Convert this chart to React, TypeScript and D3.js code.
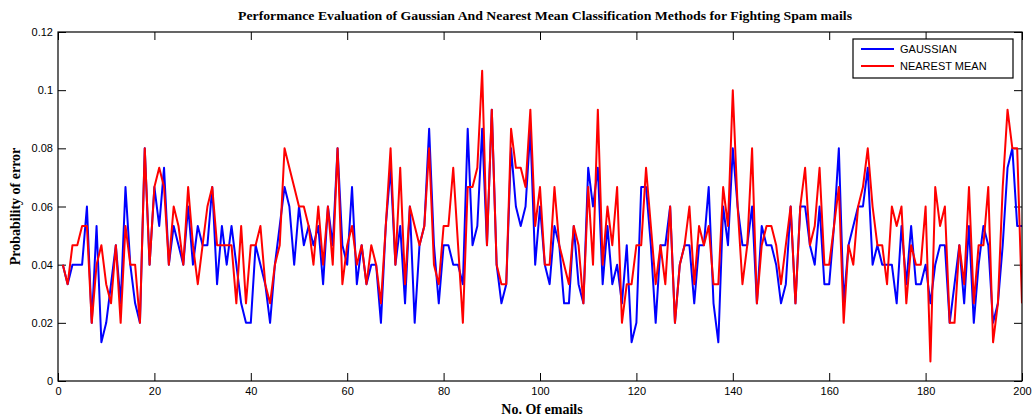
import React, { useRef, useEffect } from "react";
import { select, scaleLinear, line, axisBottom, axisLeft, axisTop, axisRight } from "d3";

// error probability per email (1..200)
const gaussian = [
  0.04, 0.0333, 0.04, 0.04, 0.04, 0.06, 0.02, 0.0533, 0.0133, 0.02, 0.0333, 0.0467, 0.0267, 0.0667, 0.04, 0.0267, 0.02, 0.08, 0.04, 0.0667,
  0.0533, 0.0733, 0.04, 0.0533, 0.0467, 0.04, 0.06, 0.04, 0.0533, 0.0467, 0.0467, 0.0667, 0.0333, 0.0533, 0.04, 0.0533, 0.04, 0.0267, 0.02, 0.02,
  0.0467, 0.04, 0.0333, 0.02, 0.04, 0.0533, 0.0667, 0.06, 0.04, 0.06, 0.0467, 0.0533, 0.0467, 0.0533, 0.0333, 0.06, 0.0467, 0.08, 0.0467, 0.04,
  0.0667, 0.0333, 0.0467, 0.0333, 0.04, 0.04, 0.02, 0.0533, 0.0733, 0.04, 0.0533, 0.0267, 0.06, 0.02, 0.0467, 0.0533, 0.0867, 0.0467, 0.0267, 0.0467,
  0.0467, 0.04, 0.04, 0.0333, 0.0867, 0.0467, 0.0533, 0.0867, 0.0467, 0.0933, 0.04, 0.0267, 0.0333, 0.08, 0.06, 0.0533, 0.06, 0.0867, 0.04, 0.06,
  0.04, 0.0333, 0.0533, 0.0467, 0.0267, 0.0267, 0.0533, 0.0333, 0.0267, 0.0733, 0.06, 0.0733, 0.0333, 0.0533, 0.0333, 0.04, 0.0267, 0.0467, 0.0133, 0.02,
  0.0667, 0.0667, 0.0467, 0.02, 0.0467, 0.0467, 0.06, 0.02, 0.04, 0.0467, 0.0467, 0.0267, 0.0467, 0.0467, 0.0667, 0.0267, 0.0133, 0.06, 0.0467, 0.08,
  0.06, 0.0467, 0.0467, 0.06, 0.0267, 0.0533, 0.0467, 0.0467, 0.04, 0.0267, 0.0333, 0.06, 0.0267, 0.06, 0.06, 0.0467, 0.04, 0.06, 0.0333, 0.0333,
  0.0533, 0.08, 0.0267, 0.0467, 0.0533, 0.06, 0.06, 0.0733, 0.04, 0.0467, 0.04, 0.04, 0.04, 0.0267, 0.0533, 0.0333, 0.0533, 0.0333, 0.0333, 0.04,
  0.0267, 0.04, 0.0467, 0.0467, 0.02, 0.0333, 0.0467, 0.0267, 0.0533, 0.02, 0.04, 0.0533, 0.0467, 0.02, 0.0267, 0.0467, 0.0733, 0.08, 0.0533, 0.0533,
];

const nearestMean = [
  0.04, 0.0333, 0.0467, 0.0467, 0.0533, 0.0533, 0.02, 0.04, 0.0467, 0.0333, 0.0267, 0.0467, 0.02, 0.0533, 0.04, 0.04, 0.02, 0.08, 0.04, 0.0667,
  0.0733, 0.0667, 0.04, 0.06, 0.0533, 0.04, 0.0667, 0.0467, 0.0333, 0.0467, 0.06, 0.0667, 0.0467, 0.0467, 0.0467, 0.0467, 0.0267, 0.0533, 0.0267, 0.0467,
  0.0467, 0.0533, 0.0333, 0.0267, 0.04, 0.0467, 0.08, 0.0733, 0.0667, 0.06, 0.06, 0.0533, 0.04, 0.06, 0.04, 0.06, 0.04, 0.08, 0.0333, 0.0467,
  0.0533, 0.04, 0.0467, 0.0333, 0.0467, 0.04, 0.0267, 0.0533, 0.08, 0.04, 0.0733, 0.0333, 0.06, 0.0533, 0.0467, 0.0533, 0.08, 0.04, 0.0333, 0.0533,
  0.0533, 0.0733, 0.0467, 0.02, 0.0667, 0.0667, 0.0733, 0.1067, 0.0467, 0.0933, 0.04, 0.0333, 0.0333, 0.0867, 0.0733, 0.0733, 0.0667, 0.0933, 0.0533, 0.0667,
  0.04, 0.04, 0.0667, 0.0467, 0.04, 0.0333, 0.0533, 0.0467, 0.0267, 0.0667, 0.04, 0.0933, 0.04, 0.06, 0.0467, 0.0667, 0.02, 0.0333, 0.0333, 0.0467,
  0.0467, 0.0733, 0.0533, 0.0333, 0.0467, 0.0333, 0.06, 0.02, 0.04, 0.0467, 0.06, 0.0333, 0.0533, 0.0467, 0.0533, 0.0333, 0.0333, 0.0667, 0.0533, 0.1,
  0.06, 0.0333, 0.0467, 0.08, 0.0267, 0.0467, 0.0533, 0.0533, 0.0467, 0.0333, 0.0467, 0.06, 0.0267, 0.06, 0.0733, 0.0467, 0.0533, 0.0733, 0.04, 0.04,
  0.0533, 0.0667, 0.02, 0.0467, 0.04, 0.06, 0.0667, 0.08, 0.06, 0.0467, 0.0467, 0.0333, 0.06, 0.0533, 0.06, 0.0267, 0.0467, 0.04, 0.04, 0.06,
  0.0067, 0.0667, 0.0533, 0.06, 0.02, 0.02, 0.0467, 0.0333, 0.0667, 0.0267, 0.0467, 0.0467, 0.0667, 0.0133, 0.0267, 0.0667, 0.0933, 0.08, 0.08, 0.0267,
];

const xTicks = [0, 20, 40, 60, 80, 100, 120, 140, 160, 180, 200];
const yTicks = [0, 0.02, 0.04, 0.06, 0.08, 0.1, 0.12];
const seriesNames = ["GAUSSIAN", "NEAREST MEAN"];
const seriesColors = ["#0000ff", "#ff0000"];

const W = 1034;
const H = 419;
const margin = { left: 58, right: 12, top: 32, bottom: 38 };

export default function App() {
  const svgRef = useRef(null);

  useEffect(() => {
    const svg = select(svgRef.current);
    svg.selectAll("*").remove();

    const x = scaleLinear().domain([0, 200]).range([margin.left, W - margin.right]);
    const y = scaleLinear().domain([0, 0.12]).range([H - margin.bottom, margin.top]);
    const tickFont = "'Liberation Sans', Arial, sans-serif";

    svg.append("rect").attr("width", W).attr("height", H).attr("fill", "#fff");

    const g = svg.append("g");

    const styleAxis = (sel) => {
      sel.select(".domain").remove();
      sel.selectAll(".tick line").attr("stroke", "#000");
      sel.selectAll(".tick text").attr("font-family", tickFont).attr("font-size", 11).attr("fill", "#000");
    };

    g.append("g")
      .attr("transform", `translate(0,${y(0)})`)
      .call(axisBottom(x).tickValues(xTicks).tickSize(-8).tickPadding(6))
      .call(styleAxis);
    g.append("g")
      .attr("transform", `translate(0,${y(0.12)})`)
      .call(axisTop(x).tickValues(xTicks).tickSize(-8).tickFormat(() => ""))
      .call(styleAxis);
    g.append("g")
      .attr("transform", `translate(${x(0)},0)`)
      .call(axisLeft(y).tickValues(yTicks).tickSize(-8).tickPadding(5).tickFormat((d) => `${+d.toFixed(2)}`))
      .call(styleAxis);
    g.append("g")
      .attr("transform", `translate(${x(200)},0)`)
      .call(axisRight(y).tickValues(yTicks).tickSize(-8).tickFormat(() => ""))
      .call(styleAxis);

    const clipId = "plot-clip";
    svg.append("clipPath").attr("id", clipId)
      .append("rect")
      .attr("x", x(0)).attr("y", y(0.12))
      .attr("width", x(200) - x(0)).attr("height", y(0) - y(0.12));

    const myLine = line()
      .x((d, i) => x(i + 1))
      .y((d) => y(d));

    g.append("g").attr("clip-path", `url(#${clipId})`)
      .selectAll("path")
      .data([gaussian, nearestMean])
      .join("path")
      .attr("d", (d) => myLine(d))
      .attr("fill", "none")
      .attr("stroke", (d, i) => seriesColors[i])
      .attr("stroke-width", 2)
      .attr("stroke-linejoin", "round");

    // frame
    g.append("rect")
      .attr("x", x(0)).attr("y", y(0.12))
      .attr("width", x(200) - x(0)).attr("height", y(0) - y(0.12))
      .attr("fill", "none").attr("stroke", "#000").attr("stroke-width", 1.2);

    // legend
    const lg = g.append("g").attr("transform", `translate(853,39)`);
    lg.append("rect").attr("width", 160).attr("height", 39)
      .attr("fill", "#fff").attr("stroke", "#000").attr("stroke-width", 1.2);
    seriesNames.forEach((name, i) => {
      const ly = 10 + i * 17;
      lg.append("line").attr("x1", 8).attr("x2", 41).attr("y1", ly).attr("y2", ly)
        .attr("stroke", seriesColors[i]).attr("stroke-width", 2);
      lg.append("text").attr("x", 47).attr("y", ly).attr("dy", "0.35em")
        .attr("font-family", tickFont).attr("font-size", 11).text(name);
    });

    const serif = "'Liberation Serif', 'Times New Roman', serif";
    svg.append("text")
      .attr("x", (x(0) + x(200)) / 2 + 5).attr("y", 20)
      .attr("text-anchor", "middle")
      .attr("font-family", serif).attr("font-weight", "bold").attr("font-size", 13)
      .attr("textLength", 614).attr("lengthAdjust", "spacingAndGlyphs")
      .text("Performance Evaluation of Gaussian And Nearest Mean Classification Methods for Fighting Spam mails");

    svg.append("text")
      .attr("x", (x(0) + x(200)) / 2 + 2).attr("y", 414)
      .attr("text-anchor", "middle")
      .attr("font-family", serif).attr("font-weight", "bold").attr("font-size", 14)
      .text("No. Of emails");

    svg.append("text")
      .attr("transform", `translate(20,${(y(0) + y(0.12)) / 2}) rotate(-90)`)
      .attr("text-anchor", "middle")
      .attr("font-family", serif).attr("font-weight", "bold").attr("font-size", 14)
      .text("Probability of error");
  }, []);

  return (
    <svg ref={svgRef} width={W} height={H} style={{ position: "absolute", left: 0, top: 0 }} />
  );
}
